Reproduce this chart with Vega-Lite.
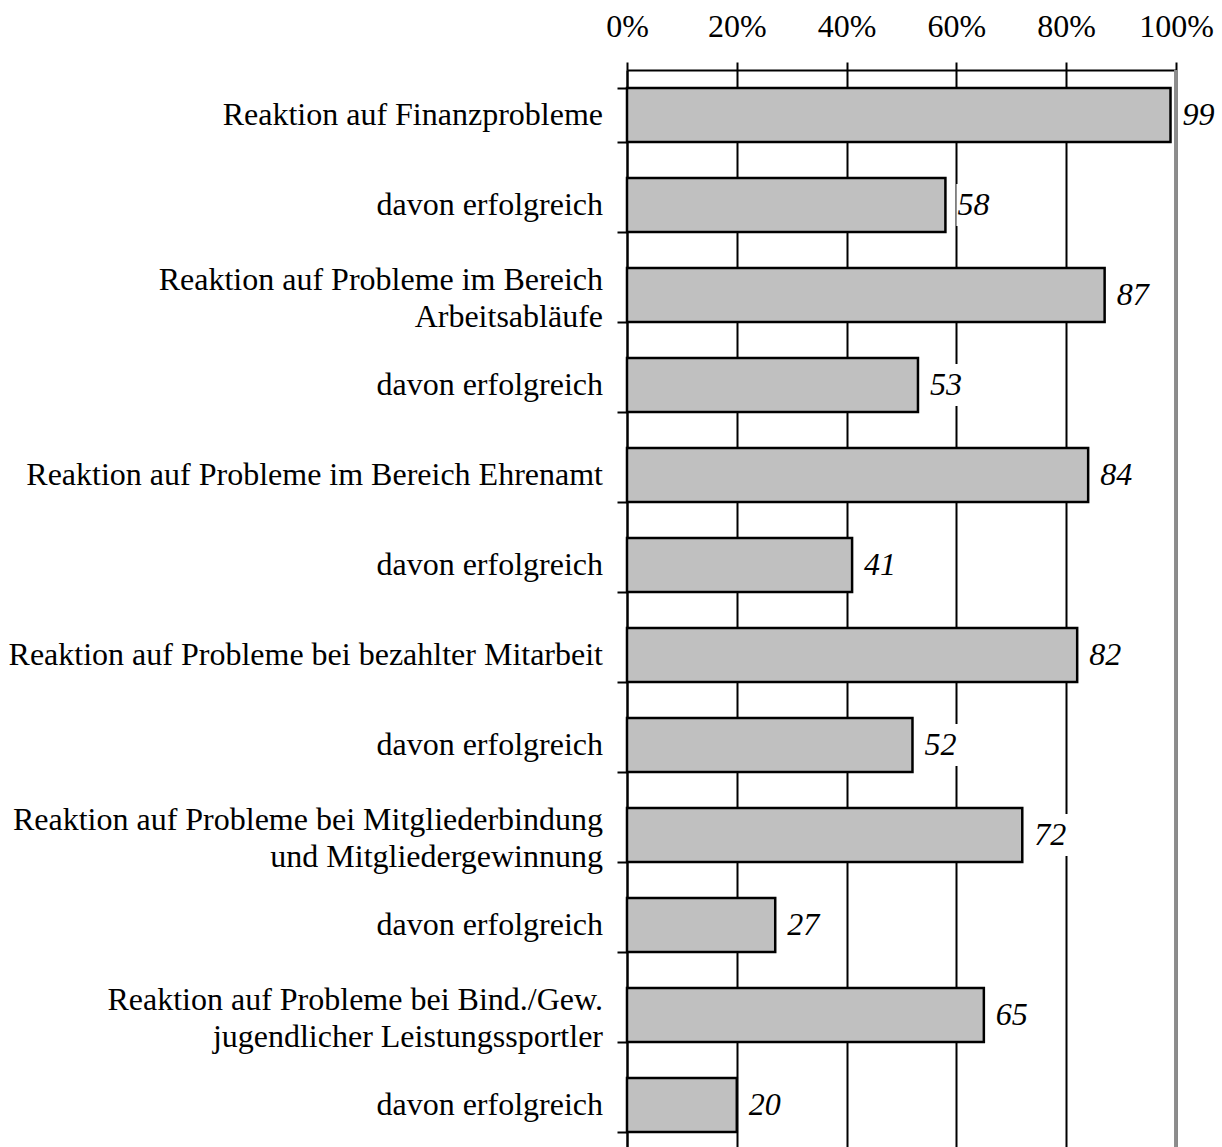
{
  "$schema": "https://vega.github.io/schema/vega-lite/v6.json",
  "autosize": {"type": "none"},
  "padding": {"left": 627, "top": 70, "right": 46, "bottom": 0},
  "width": 549,
  "height": 1080,
  "background": "white",
  "config": {
    "view": {"stroke": null},
    "font": "Liberation Serif"
  },
  "data": {
    "values": [
      {"id": "01", "label": ["Reaktion auf Finanzprobleme"], "value": 99},
      {"id": "02", "label": ["davon erfolgreich"], "value": 58},
      {"id": "03", "label": ["Reaktion auf Probleme im Bereich", "Arbeitsabläufe"], "value": 87},
      {"id": "04", "label": ["davon erfolgreich"], "value": 53},
      {"id": "05", "label": ["Reaktion auf Probleme im Bereich Ehrenamt"], "value": 84},
      {"id": "06", "label": ["davon erfolgreich"], "value": 41},
      {"id": "07", "label": ["Reaktion auf Probleme bei bezahlter Mitarbeit"], "value": 82},
      {"id": "08", "label": ["davon erfolgreich"], "value": 52},
      {"id": "09", "label": ["Reaktion auf Probleme bei Mitgliederbindung", "und Mitgliedergewinnung"], "value": 72},
      {"id": "10", "label": ["davon erfolgreich"], "value": 27},
      {"id": "11", "label": ["Reaktion auf Probleme bei Bind./Gew.", "jugendlicher Leistungssportler"], "value": 65},
      {"id": "12", "label": ["davon erfolgreich"], "value": 20}
    ]
  },
  "layer": [
    {
      "mark": {"type": "bar", "fill": "#c0c0c0", "stroke": "black", "strokeWidth": 2.5},
      "encoding": {
        "y": {
          "field": "id",
          "type": "nominal",
          "sort": null,
          "scale": {"paddingInner": 0.4, "paddingOuter": 0.2},
          "axis": {
            "title": null,
            "labels": false,
            "tickBand": "extent",
            "tickSize": 10,
            "tickWidth": 2,
            "tickColor": "black",
            "domainColor": "black",
            "domainWidth": 2,
            "grid": false
          }
        },
        "x": {
          "field": "value",
          "type": "quantitative",
          "scale": {"domain": [0, 100]},
          "axis": {
            "orient": "top",
            "title": null,
            "values": [0, 20, 40, 60, 80, 100],
            "labelExpr": "datum.value + '%'",
            "labelFont": "Liberation Serif",
            "labelFontSize": 32,
            "labelColor": "black",
            "labelPadding": 19,
            "labelFlush": false,
            "tickSize": 8,
            "tickWidth": 2,
            "tickColor": "black",
            "domainColor": "black",
            "domainWidth": 2,
            "grid": true,
            "gridColor": "black",
            "gridWidth": 2,
            "gridOpacity": 1
          }
        }
      }
    },
    {
      "mark": {"type": "rule", "color": "#8c8c8c", "strokeWidth": 2.5},
      "encoding": {"x": {"datum": 100, "type": "quantitative"}}
    },
    {
      "mark": {"type": "tick", "color": "white", "opacity": 1, "thickness": 36, "size": 42, "xOffset": 29},
      "encoding": {
        "y": {"field": "id", "type": "nominal", "sort": null},
        "x": {"field": "value", "type": "quantitative"}
      }
    },
    {
      "mark": {"type": "text", "align": "left", "baseline": "middle", "dx": 12, "fontSize": 32, "fontStyle": "italic", "font": "Liberation Serif", "color": "black"},
      "encoding": {
        "y": {"field": "id", "type": "nominal", "sort": null},
        "x": {"field": "value", "type": "quantitative"},
        "text": {"field": "value", "type": "quantitative"}
      }
    },
    {
      "transform": [{"filter": "length(datum.label) == 1"}],
      "mark": {"type": "text", "align": "right", "baseline": "middle", "dx": -24, "fontSize": 32, "font": "Liberation Serif", "color": "black"},
      "encoding": {
        "y": {"field": "id", "type": "nominal", "sort": null},
        "x": {"datum": 0, "type": "quantitative"},
        "text": {"field": "label"}
      }
    },
    {
      "transform": [{"filter": "length(datum.label) == 2"}],
      "mark": {"type": "text", "align": "right", "baseline": "middle", "dx": -24, "dy": -15, "fontSize": 32, "lineHeight": 37, "font": "Liberation Serif", "color": "black"},
      "encoding": {
        "y": {"field": "id", "type": "nominal", "sort": null},
        "x": {"datum": 0, "type": "quantitative"},
        "text": {"field": "label"}
      }
    }
  ]
}
